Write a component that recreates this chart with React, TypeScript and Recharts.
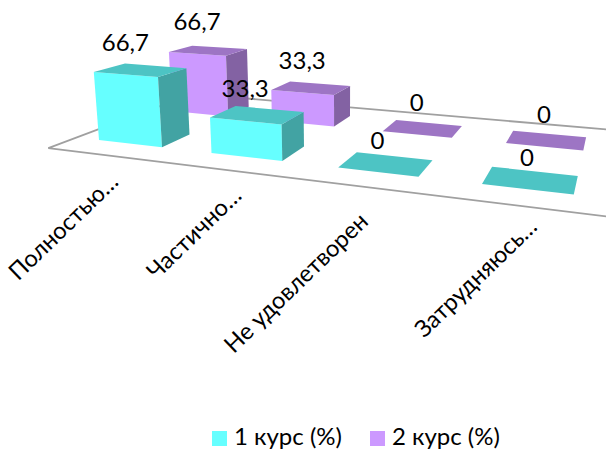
import React from "react";
import { ComposedChart, Bar, XAxis, YAxis, Legend, LabelList } from "recharts";

const categories = ["Полностью…", "Частично…", "Не удовлетворен", "Затрудняюсь…"];
const course1 = [66.7, 33.3, 0, 0];
const course2 = [66.7, 33.3, 0, 0];
const rows = categories.map((name, i) => ({ name, c1: course1[i], c2: course2[i] }));

const W = 606;
const H = 450;
const BAND = W / categories.length;
const SIDE_GAP = 0.213;
const FONT = "Lato, 'Open Sans', sans-serif";

// Perspective camera fitted to the picture: s runs along the categories, t into the depth, z is the value.
const R = -3.159e-4;
function project(s: number, t: number, z: number): [number, number] {
  const w = -0.1687 * s + 0.1589 * t + 1 + R * z;
  const px = 301.7 * s + 100.3 * t + 99 + 340 * R * z;
  const py = 12.96 * s - 11.36 * t + 140 + 3300 * R * z;
  return [px / w, py / w];
}
const toS = (x: number) => (x / BAND - SIDE_GAP) / 3;
const DEPTH = 0.38;

const pts = (list: [number, number][]) => list.map((p) => p[0].toFixed(1) + "," + p[1].toFixed(1)).join(" ");

function Cuboid(props: any) {
  const { x, width, height, background, row, front, top, side } = props;
  const z = background && background.height ? (height / background.height) * 100 : 0;
  const s0 = toS(x);
  const s1 = toS(x + width);
  const t0 = row;
  const t1 = row + DEPTH;
  const flb = project(s0, t0, 0);
  const frb = project(s1, t0, 0);
  const brb = project(s1, t1, 0);
  const flt = project(s0, t0, z);
  const frt = project(s1, t0, z);
  const brt = project(s1, t1, z);
  const blt = project(s0, t1, z);
  return (
    <g>
      {z > 0 && <polygon points={pts([flb, frb, frt, flt])} fill={front} />}
      {z > 0 && <polygon points={pts([frb, brb, brt, frt])} fill={side} />}
      <polygon points={pts([flt, frt, brt, blt])} fill={top} />
    </g>
  );
}

function ValueLabel(props: any) {
  const { x, width, value, row } = props;
  const z = Number(value);
  const [px, py] = project(toS(x + width / 2), row, z);
  return (
    <text x={px} y={py - 33} textAnchor="middle" dominantBaseline="central" fontSize={24} fontFamily={FONT} fill="#000">
      {String(value).replace(".", ",")}
    </text>
  );
}

function CategoryTick(props: any) {
  const { x, payload, index } = props;
  const [px, py] = project(toS(x), -0.31, 0);
  const nudgeX = [10, 12, 1, 12][index] ?? 0;
  const nudgeY = [22, 21, 30, 16][index] ?? 0;
  const ax = px + nudgeX;
  const ay = py + nudgeY;
  return (
    <text
      x={ax}
      y={ay}
      textAnchor="end"
      dominantBaseline="central"
      fontSize={23.6}
      fontFamily={FONT}
      fill="#000"
      transform={`rotate(-44 ${ax} ${ay})`}
    >
      {payload.value}
    </text>
  );
}

function Floor() {
  const s0 = toS(0);
  const s1 = toS(W);
  const corners = [project(s0, -0.31, 0), project(s1, -0.31, 0), project(s1, 1.68, 0), project(s0, 1.68, 0)];
  return <polygon points={pts(corners)} fill="none" stroke="#a0a0a0" strokeWidth={1.8} />;
}

export default function App() {
  return (
    <div style={{ position: "absolute", left: 0, top: 0, width: W, height: H }}>
      <ComposedChart width={W} height={H} data={rows} margin={{ top: 0, right: 0, bottom: 0, left: 0 }} barCategoryGap={`${SIDE_GAP * 100}%`}>
        <Floor />
        <XAxis xAxisId="front" dataKey="name" axisLine={false} tickLine={false} height={1} interval={0} tick={<CategoryTick />} />
        <XAxis xAxisId="back" dataKey="name" hide />
        <YAxis domain={[0, 100]} hide />
        <Bar
          xAxisId="back"
          dataKey="c2"
          name="2 курс (%)"
          fill="#CC99FF"
          isAnimationActive={false}
          shape={<Cuboid row={1} front="#CC99FF" top="#9D75C4" side="#8362A3" />}
        >
          <LabelList dataKey="c2" content={<ValueLabel row={1} />} />
        </Bar>
        <Bar
          xAxisId="front"
          dataKey="c1"
          name="1 курс (%)"
          fill="#66FFFF"
          isAnimationActive={false}
          shape={<Cuboid row={0} front="#66FFFF" top="#4DC4C4" side="#42A3A3" />}
        >
          <LabelList dataKey="c1" content={<ValueLabel row={0} />} />
        </Bar>
        <Legend
          align="left"
          iconType="square"
          iconSize={15}
          wrapperStyle={{ position: "absolute", left: 212, top: 421, width: 340, height: 32, fontFamily: FONT, fontSize: 24 }}
          formatter={(v: string) => <span style={{ color: "#000", marginLeft: 3, marginRight: 18 }}>{v}</span>}
        />
      </ComposedChart>
    </div>
  );
}
